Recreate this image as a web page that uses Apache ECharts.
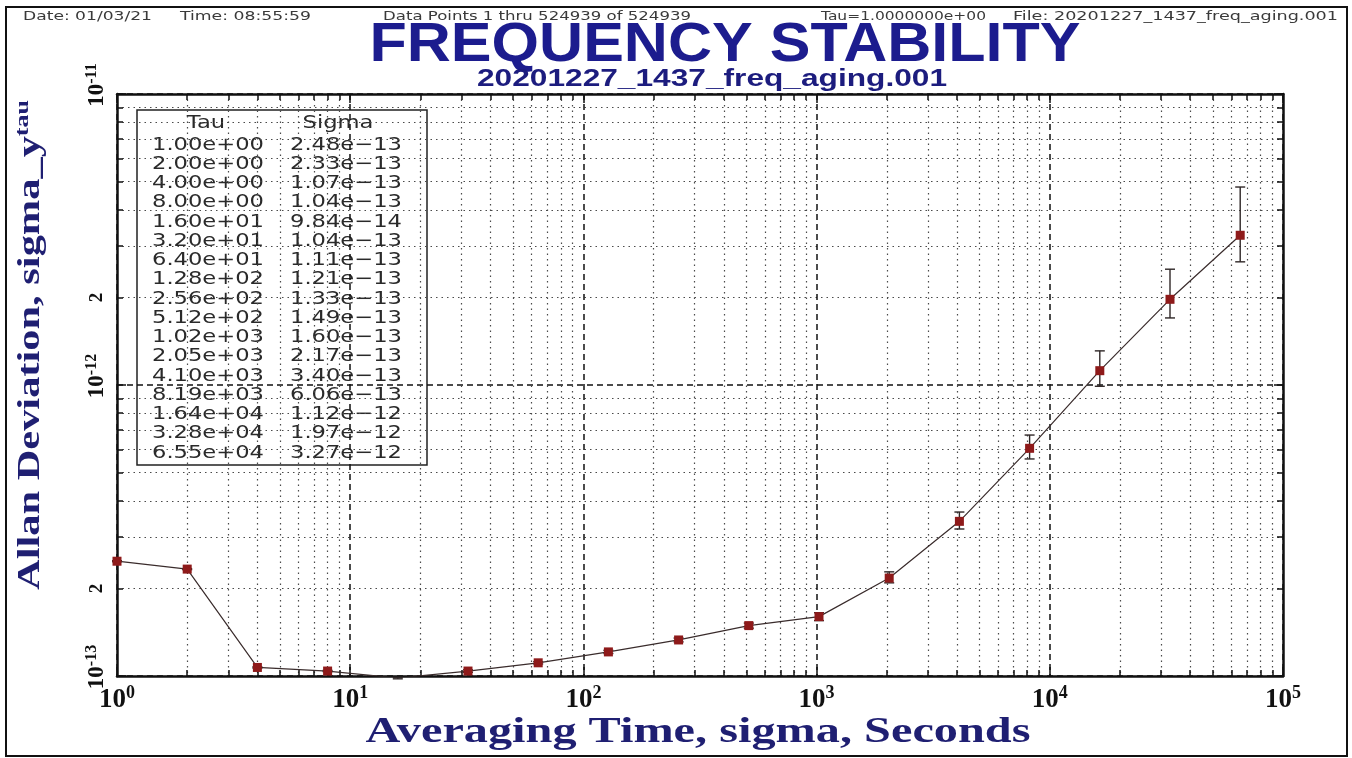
<!DOCTYPE html>
<html>
<head>
<meta charset="utf-8">
<script src="https://cdn.jsdelivr.net/npm/echarts@6/dist/echarts.min.js"></script>
<style>
html, body { margin: 0; padding: 0; background: #fff; }
#main { width: 1352px; height: 758px; }
</style>
</head>
<body>
<div id="main"></div>
<script>
var tau = [1, 2, 4, 8, 16, 32, 64, 128, 256, 512, 1024, 2048, 4096, 8192, 16384, 32768, 65536];
var sigma = [2.48e-13, 2.33e-13, 1.07e-13, 1.04e-13, 9.84e-14, 1.04e-13, 1.11e-13, 1.21e-13, 1.33e-13,
             1.49e-13, 1.60e-13, 2.17e-13, 3.40e-13, 6.06e-13, 1.12e-12, 1.97e-12, 3.27e-12];
// error bar ends
var errLo = [2.47e-13, 2.32e-13, 1.065e-13, 1.035e-13, 0.978e-13, 1.03e-13, 1.10e-13, 1.195e-13, 1.31e-13,
             1.46e-13, 1.55e-13, 2.09e-13, 3.20e-13, 5.57e-13, 0.99e-12, 1.70e-12, 2.65e-12];
var errHi = [2.49e-13, 2.34e-13, 1.075e-13, 1.045e-13, 0.99e-13, 1.05e-13, 1.12e-13, 1.225e-13, 1.35e-13,
             1.52e-13, 1.65e-13, 2.28e-13, 3.66e-13, 6.73e-13, 1.31e-12, 2.50e-12, 4.79e-12];
var yLabelValues = [1e-13, 2e-13, 1e-12, 2e-12, 1e-11];

var headerDate = 'Date: 01/03/21';
var headerTime = 'Time: 08:55:59';
var headerPoints = 'Data Points 1 thru 524939 of 524939';
var headerTau = 'Tau=1.0000000e+00';
var headerFile = 'File: 20201227_1437_freq_aging.001';
var titleText = 'FREQUENCY STABILITY';
var subTitleText = '20201227_1437_freq_aging.001';

var ctx = document.createElement('canvas').getContext('2d');
function stretch(text, font, width) {
    ctx.font = font;
    return width / ctx.measureText(text).width;
}
function fmtExp(v, minus) {
    var s = v.toExponential(2).replace(/e([+-])(\d)$/, 'e$10$2');
    return minus ? s.replace('e-', 'e\u2212') : s;
}

var serif = '"Liberation Serif", "DejaVu Serif", serif';
var sans = '"Liberation Sans", Arial, sans-serif';
var navy = '#1f1f72';

var chart = echarts.init(document.getElementById('main'));

// legend table
var tabFont = '18px "DejaVu Sans"';
var tabScale = stretch('1.00e+00', tabFont, 112);
var table = [
    { type: 'rect', shape: { x: 137, y: 110, width: 290, height: 355 },
      style: { fill: '#fff', stroke: '#222', lineWidth: 1.5 } },
    { type: 'text', x: 206, y: 123, scaleX: tabScale,
      style: { text: 'Tau', font: tabFont, fill: '#2a2a2a', align: 'center', verticalAlign: 'middle' } },
    { type: 'text', x: 338, y: 123, scaleX: tabScale,
      style: { text: 'Sigma', font: tabFont, fill: '#2a2a2a', align: 'center', verticalAlign: 'middle' } }
];
tau.forEach(function (t, i) {
    var y = 145 + i * 19.25;
    table.push({ type: 'text', x: 152, y: y, scaleX: tabScale,
        style: { text: fmtExp(t), font: tabFont, fill: '#2a2a2a', align: 'left', verticalAlign: 'middle' } });
    table.push({ type: 'text', x: 290, y: y, scaleX: tabScale,
        style: { text: fmtExp(sigma[i], true), font: tabFont, fill: '#2a2a2a', align: 'left', verticalAlign: 'middle' } });
});

function headerItem(text, x0, x1) {
    var f = '12px "DejaVu Sans"';
    return { type: 'text', x: x0, y: 17, scaleX: stretch(text, f, x1 - x0),
        style: { text: text, font: f, fill: '#3a3a3a', align: 'left', verticalAlign: 'middle' } };
}

var titleFont = 'bold 56px ' + sans;
var subFont = 'bold 24px ' + sans;
var xNameFont = 'bold 35px ' + serif;
var yName = 'Allan Deviation, sigma_y';
var yNameFont = 'bold 31px ' + serif;
ctx.font = yNameFont;
var yNameW = ctx.measureText(yName).width;
ctx.font = 'bold 19px ' + serif;
yNameW += ctx.measureText('tau').width;

var decadeFmt = function (v) {
    var e = Math.round(Math.log10(v));
    return '{b|10}{s|' + e + '}';
};
var yFmt = function (v) {
    var e = Math.round(Math.log10(v));
    var m = v / Math.pow(10, e);
    if (Math.abs(m - 1) < 0.01) return '{p|}{b|10}{s|' + e + '}';
    return '{t|' + Math.round(m) + '}';
};
var labRich = {
    b: { fontFamily: serif, fontWeight: 'bold', fontSize: 27, color: '#111', lineHeight: 32 },
    s: { fontFamily: serif, fontWeight: 'bold', fontSize: 18, color: '#111', lineHeight: 15, verticalAlign: 'top' }
};
var yLabRich = {
    b: { fontFamily: serif, fontWeight: 'bold', fontSize: 23, color: '#111', lineHeight: 26 },
    s: { fontFamily: serif, fontWeight: 'bold', fontSize: 16, color: '#111', lineHeight: 12, verticalAlign: 'top' },
    t: { fontFamily: serif, fontWeight: 'bold', fontSize: 19, color: '#111', lineHeight: 26 },
    p: { width: 18 }
};

var axisLine = { show: true, onZero: false, lineStyle: { color: '#111', width: 2.5 } };
var tick = { show: true, inside: true, length: 9, lineStyle: { color: '#111', width: 1.5 } };
var minorTick = { show: true, splitNumber: 9, length: 6, lineStyle: { color: '#111', width: 1.5 } };
var split = { show: true, lineStyle: { color: '#111', type: [6, 4], width: 1.5 } };
var minorSplit = { show: true, lineStyle: { color: '#4a4a4a', type: [1.5, 4], width: 1.2 } };

chart.setOption({
    backgroundColor: '#fff',
    animation: false,
    grid: { left: 117, right: 69, top: 94, bottom: 82 },
    xAxis: [{
        type: 'log', logBase: 10, min: 1, max: 1e5, position: 'bottom',
        axisLine: axisLine, axisTick: tick, minorTick: minorTick,
        splitLine: split, minorSplitLine: minorSplit,
        axisLabel: { margin: 8, formatter: decadeFmt, rich: labRich }
    }, {
        type: 'log', logBase: 10, min: 1, max: 1e5, position: 'top',
        axisLine: axisLine, axisTick: tick, minorTick: minorTick,
        splitLine: { show: false }, axisLabel: { show: false }
    }],
    yAxis: [{
        type: 'log', logBase: 10, min: 1e-13, max: 1e-11, position: 'left',
        axisLine: axisLine, axisTick: tick, minorTick: minorTick,
        splitLine: split, minorSplitLine: minorSplit,
        axisLabel: { margin: 7, rotate: 90, formatter: yFmt, rich: yLabRich, customValues: yLabelValues }
    }, {
        type: 'log', logBase: 10, min: 1e-13, max: 1e-11, position: 'right',
        axisLine: axisLine, axisTick: tick, minorTick: minorTick,
        splitLine: { show: false }, axisLabel: { show: false }
    }],
    series: [{
        type: 'custom',
        xAxisIndex: 0, yAxisIndex: 0,
        data: tau.map(function (t, i) { return [t, errLo[i], errHi[i]]; }),
        encode: { x: 0, y: [1, 2] },
        renderItem: function (params, api) {
            var lo = api.coord([api.value(0), api.value(1)]);
            var hi = api.coord([api.value(0), api.value(2)]);
            var w = 5;
            var st = { stroke: '#2e2626', lineWidth: 1.4 };
            return { type: 'group', children: [
                { type: 'line', shape: { x1: lo[0], y1: lo[1], x2: hi[0], y2: hi[1] }, style: st },
                { type: 'line', shape: { x1: lo[0] - w, y1: lo[1], x2: lo[0] + w, y2: lo[1] }, style: st },
                { type: 'line', shape: { x1: hi[0] - w, y1: hi[1], x2: hi[0] + w, y2: hi[1] }, style: st }
            ] };
        },
        z: 3
    }, {
        type: 'line',
        data: tau.map(function (t, i) { return [t, sigma[i]]; }),
        symbol: 'rect', symbolSize: 9,
        itemStyle: { color: '#8e1a1a' },
        lineStyle: { color: '#3a2c2c', width: 1.2 },
        clip: true,
        z: 4
    }],
    graphic: [
        { type: 'rect', shape: { x: 6, y: 7, width: 1341, height: 749 },
          style: { fill: 'none', stroke: '#111', lineWidth: 2 }, silent: true },
        headerItem(headerDate, 23, 152),
        headerItem(headerTime, 180, 311),
        headerItem(headerPoints, 383, 691),
        headerItem(headerTau, 821, 986),
        headerItem(headerFile, 1013, 1338),
        { type: 'text', x: 725, y: 46, scaleX: stretch(titleText, titleFont, 711),
          style: { text: titleText, font: titleFont, fill: '#1c1c8e', align: 'center', verticalAlign: 'middle' } },
        { type: 'text', x: 712, y: 79, scaleX: stretch(subTitleText, subFont, 470),
          style: { text: subTitleText, font: subFont, fill: '#1c1c7e', align: 'center', verticalAlign: 'middle' } },
        { type: 'text', x: 698, y: 733, scaleX: stretch('Averaging Time, sigma, Seconds', xNameFont, 665),
          style: { text: 'Averaging Time, sigma, Seconds', font: xNameFont, fill: navy, align: 'center', verticalAlign: 'middle' } },
        { type: 'text', x: 31, y: 590, rotation: Math.PI / 2, scaleX: 490 / yNameW,
          style: { text: '{m|' + yName + '}{s|tau}', align: 'left', verticalAlign: 'middle',
                   rich: {
                       m: { fontFamily: serif, fontWeight: 'bold', fontSize: 31, fill: navy, lineHeight: 34 },
                       s: { fontFamily: serif, fontWeight: 'bold', fontSize: 19, fill: navy, lineHeight: 16, verticalAlign: 'top' }
                   } } },
        { type: 'group', children: table, z: 100 }
    ]
});
</script>
</body>
</html>
